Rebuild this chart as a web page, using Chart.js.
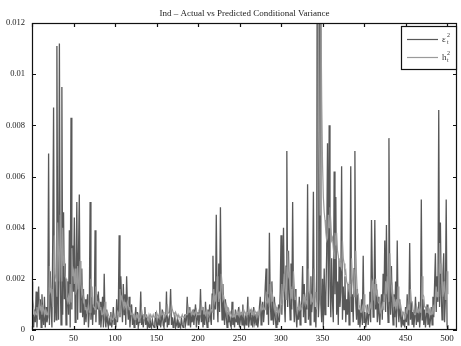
<!DOCTYPE html>
<html>
<head>
<meta charset="utf-8">
<script src="https://cdn.jsdelivr.net/npm/chart.js@4.4.0/dist/chart.umd.min.js"></script>
<style>
  html, body { margin: 0; padding: 0; background: #fff; }
  #wrap { width: 461px; height: 346px; }
</style>
</head>
<body>
<div id="wrap"><canvas id="varianceChart" width="461" height="346"></canvas></div>
<script>
// squared residuals (actual), one value per day
const epsSq = [
  0.0002,0.0006,0.0001,0.0008,0.0003,0.0015,0.0001,0.0011,0.0017,0.0004,
  0.0012,0.0001,0.0014,0.0006,0.0002,0.0013,0.0001,0.0009,0.0003,0.0005,
  0.0069,0.0002,0.0023,0.0009,0.0001,0.0036,0.0087,0.0003,0.0019,0.0004,
  0.0111,0.0019,0.0004,0.0112,0.0021,0.0002,0.0095,0.0006,0.0046,0.0012,
  0.0026,0.0002,0.0008,0.0019,0.0006,0.0039,0.0001,0.0083,0.0008,0.0033,
  0.0015,0.0044,0.0003,0.0021,0.0050,0.0004,0.0029,0.0053,0.0007,0.0011,
  0.0024,0.0005,0.0016,0.0002,0.0012,0.0003,0.0009,0.0014,0.0001,0.0007,
  0.0050,0.0004,0.0017,0.0002,0.0010,0.0006,0.0039,0.0003,0.0014,0.0008,
  0.0015,0.0002,0.0011,0.0001,0.0006,0.0013,0.0001,0.0022,0.0004,0.0001,
  0.0008,0.0003,0.0001,0.0005,0.0002,0.0007,0.0001,0.0004,0.0009,0.0002,
  0.0005,0.0001,0.0012,0.0003,0.0008,0.0037,0.0005,0.0021,0.0011,0.0003,
  0.0018,0.0006,0.0014,0.0002,0.0021,0.0009,0.0004,0.0013,0.0001,0.0007,
  0.0010,0.0002,0.0006,0.0001,0.0004,0.0009,0.0002,0.0007,0.0001,0.0003,
  0.0005,0.0015,0.0002,0.0006,0.0001,0.0004,0.0009,0.0002,0.0006,0.0001,
  0.0003,0.0001,0.0005,0.0002,0.0001,0.0004,0.0002,0.0001,0.0003,0.0007,
  0.0002,0.0001,0.0005,0.0002,0.0011,0.0001,0.0004,0.0008,0.0002,0.0001,
  0.0006,0.0003,0.0015,0.0001,0.0004,0.0002,0.0007,0.0016,0.0002,0.0005,
  0.0001,0.0003,0.0006,0.0001,0.0002,0.0004,0.0001,0.0003,0.0002,0.0001,
  0.0005,0.0002,0.0001,0.0003,0.0006,0.0002,0.0004,0.0013,0.0002,0.0005,
  0.0009,0.0001,0.0007,0.0003,0.0008,0.0002,0.0006,0.0010,0.0001,0.0004,
  0.0007,0.0002,0.0005,0.0016,0.0003,0.0009,0.0001,0.0006,0.0002,0.0011,
  0.0004,0.0001,0.0008,0.0003,0.0010,0.0005,0.0002,0.0014,0.0029,0.0004,
  0.0019,0.0008,0.0045,0.0012,0.0003,0.0026,0.0007,0.0048,0.0015,0.0004,
  0.0018,0.0009,0.0002,0.0012,0.0005,0.0001,0.0007,0.0003,0.0006,0.0002,
  0.0001,0.0011,0.0002,0.0005,0.0001,0.0008,0.0003,0.0006,0.0002,0.0009,
  0.0001,0.0004,0.0007,0.0002,0.0010,0.0003,0.0001,0.0006,0.0002,0.0005,
  0.0013,0.0001,0.0004,0.0008,0.0002,0.0006,0.0001,0.0009,0.0003,0.0005,
  0.0002,0.0007,0.0001,0.0004,0.0009,0.0013,0.0002,0.0006,0.0011,0.0003,
  0.0008,0.0017,0.0024,0.0006,0.0014,0.0002,0.0038,0.0011,0.0004,0.0019,
  0.0008,0.0002,0.0013,0.0005,0.0001,0.0007,0.0002,0.0010,0.0003,0.0015,
  0.0037,0.0006,0.0022,0.0040,0.0011,0.0003,0.0025,0.0070,0.0009,0.0031,
  0.0014,0.0004,0.0026,0.0008,0.0050,0.0012,0.0003,0.0016,0.0006,0.0001,
  0.0009,0.0004,0.0013,0.0002,0.0007,0.0011,0.0025,0.0005,0.0018,0.0003,
  0.0012,0.0008,0.0057,0.0004,0.0015,0.0002,0.0021,0.0007,0.0012,0.0054,
  0.0003,0.0009,0.0001,0.0016,0.0260,0.0005,0.0012,0.0200,0.0010,0.0003,
  0.0020,0.0001,0.0024,0.0006,0.0013,0.0030,0.0073,0.0009,0.0080,0.0017,
  0.0005,0.0028,0.0011,0.0003,0.0062,0.0014,0.0052,0.0006,0.0019,0.0002,
  0.0027,0.0009,0.0015,0.0064,0.0004,0.0017,0.0008,0.0021,0.0003,0.0012,
  0.0006,0.0018,0.0002,0.0010,0.0064,0.0007,0.0014,0.0003,0.0024,0.0070,
  0.0011,0.0004,0.0016,0.0002,0.0008,0.0001,0.0005,0.0012,0.0002,0.0029,
  0.0003,0.0007,0.0001,0.0004,0.0010,0.0002,0.0006,0.0015,0.0003,0.0043,
  0.0021,0.0005,0.0011,0.0043,0.0008,0.0018,0.0003,0.0013,0.0006,0.0002,
  0.0009,0.0014,0.0004,0.0022,0.0011,0.0035,0.0007,0.0041,0.0013,0.0003,
  0.0075,0.0018,0.0006,0.0025,0.0009,0.0002,0.0014,0.0005,0.0019,0.0001,
  0.0035,0.0008,0.0003,0.0012,0.0005,0.0001,0.0007,0.0002,0.0004,0.0001,
  0.0009,0.0003,0.0014,0.0002,0.0006,0.0034,0.0004,0.0011,0.0002,0.0007,
  0.0001,0.0005,0.0013,0.0002,0.0008,0.0003,0.0011,0.0001,0.0006,0.0051,
  0.0004,0.0012,0.0002,0.0008,0.0001,0.0005,0.0010,0.0002,0.0007,0.0001,
  0.0004,0.0009,0.0002,0.0013,0.0005,0.0018,0.0030,0.0007,0.0021,0.0011,
  0.0086,0.0009,0.0042,0.0014,0.0004,0.0022,0.0030,0.0003,0.0012,0.0051,
  0.0002,0.0000
];

// predicted conditional variance
const hSq = [
  0.0019,0.0012,0.0009,0.0006,0.0007,0.0006,0.0009,0.0006,0.0008,0.0011,
  0.0008,0.0009,0.0006,0.0009,0.0008,0.0006,0.0008,0.0006,0.0007,0.0006,
  0.0006,0.0025,0.0015,0.0016,0.0013,0.0009,0.0017,0.0037,0.0022,0.0019,
  0.0013,0.0042,0.0030,0.0019,0.0045,0.0032,0.0019,0.0040,0.0025,0.0029,
  0.0021,0.0020,0.0013,0.0011,0.0013,0.0010,0.0018,0.0011,0.0032,0.0021,
  0.0023,0.0018,0.0024,0.0015,0.0016,0.0025,0.0016,0.0019,0.0027,0.0018,
  0.0014,0.0016,0.0011,0.0012,0.0008,0.0009,0.0007,0.0008,0.0010,0.0007,
  0.0007,0.0020,0.0013,0.0013,0.0009,0.0009,0.0008,0.0017,0.0011,0.0011,
  0.0009,0.0011,0.0008,0.0009,0.0006,0.0006,0.0008,0.0006,0.0011,0.0008,
  0.0006,0.0007,0.0006,0.0005,0.0005,0.0004,0.0005,0.0004,0.0004,0.0006,
  0.0005,0.0005,0.0004,0.0007,0.0006,0.0007,0.0016,0.0011,0.0013,0.0012,
  0.0009,0.0011,0.0009,0.0010,0.0007,0.0011,0.0010,0.0008,0.0009,0.0006,
  0.0006,0.0007,0.0005,0.0006,0.0004,0.0004,0.0006,0.0005,0.0006,0.0004,
  0.0004,0.0005,0.0008,0.0006,0.0006,0.0004,0.0004,0.0006,0.0005,0.0005,
  0.0004,0.0006,0.0005,0.0006,0.0005,0.0005,0.0006,0.0005,0.0005,0.0005,
  0.0007,0.0006,0.0005,0.0006,0.0005,0.0008,0.0006,0.0006,0.0007,0.0006,
  0.0005,0.0006,0.0006,0.0010,0.0007,0.0007,0.0006,0.0007,0.0010,0.0008,
  0.0007,0.0006,0.0006,0.0007,0.0006,0.0005,0.0006,0.0005,0.0005,0.0005,
  0.0005,0.0006,0.0005,0.0005,0.0005,0.0006,0.0006,0.0006,0.0009,0.0007,
  0.0007,0.0008,0.0006,0.0007,0.0006,0.0007,0.0006,0.0007,0.0008,0.0006,
  0.0006,0.0007,0.0006,0.0006,0.0010,0.0008,0.0009,0.0007,0.0007,0.0006,
  0.0008,0.0007,0.0006,0.0007,0.0006,0.0008,0.0008,0.0007,0.0010,0.0016,
  0.0011,0.0013,0.0011,0.0021,0.0016,0.0011,0.0015,0.0012,0.0022,0.0018,
  0.0012,0.0013,0.0011,0.0008,0.0010,0.0009,0.0007,0.0008,0.0006,0.0007,
  0.0006,0.0005,0.0008,0.0006,0.0006,0.0005,0.0007,0.0006,0.0007,0.0006,
  0.0008,0.0006,0.0006,0.0007,0.0006,0.0008,0.0007,0.0006,0.0007,0.0006,
  0.0006,0.0009,0.0007,0.0007,0.0008,0.0006,0.0007,0.0006,0.0008,0.0007,
  0.0007,0.0006,0.0007,0.0006,0.0006,0.0008,0.0010,0.0008,0.0008,0.0009,
  0.0008,0.0008,0.0011,0.0015,0.0011,0.0012,0.0009,0.0018,0.0015,0.0011,
  0.0013,0.0011,0.0008,0.0010,0.0009,0.0007,0.0008,0.0006,0.0008,0.0007,
  0.0010,0.0018,0.0013,0.0015,0.0022,0.0017,0.0012,0.0016,0.0031,0.0021,
  0.0022,0.0017,0.0012,0.0016,0.0012,0.0023,0.0017,0.0012,0.0013,0.0010,
  0.0007,0.0009,0.0008,0.0010,0.0008,0.0008,0.0009,0.0014,0.0011,0.0013,
  0.0010,0.0011,0.0010,0.0024,0.0015,0.0014,0.0010,0.0013,0.0011,0.0011,
  0.0024,0.0015,0.0012,0.0008,0.0011,0.0132,0.0078,0.0045,0.0130,0.0090,
  0.0065,0.0052,0.0046,0.0043,0.0038,0.0035,0.0036,0.0045,0.0040,0.0048,
  0.0042,0.0035,0.0036,0.0032,0.0028,0.0038,0.0033,0.0038,0.0031,0.0029,
  0.0025,0.0028,0.0025,0.0024,0.0035,0.0028,0.0026,0.0022,0.0023,0.0019,
  0.0018,0.0016,0.0018,0.0015,0.0013,0.0028,0.0020,0.0017,0.0013,0.0016,
  0.0031,0.0021,0.0014,0.0014,0.0010,0.0010,0.0007,0.0007,0.0009,0.0007,
  0.0014,0.0010,0.0009,0.0007,0.0007,0.0009,0.0007,0.0007,0.0010,0.0008,
  0.0019,0.0018,0.0012,0.0011,0.0020,0.0014,0.0015,0.0011,0.0011,0.0010,
  0.0007,0.0008,0.0010,0.0008,0.0013,0.0012,0.0019,0.0014,0.0021,0.0016,
  0.0011,0.0030,0.0022,0.0015,0.0017,0.0013,0.0009,0.0011,0.0009,0.0012,
  0.0008,0.0017,0.0013,0.0009,0.0010,0.0008,0.0006,0.0007,0.0006,0.0006,
  0.0005,0.0008,0.0007,0.0010,0.0008,0.0008,0.0016,0.0011,0.0011,0.0008,
  0.0008,0.0006,0.0006,0.0009,0.0007,0.0008,0.0007,0.0009,0.0007,0.0007,
  0.0021,0.0014,0.0013,0.0009,0.0009,0.0007,0.0007,0.0009,0.0007,0.0008,
  0.0006,0.0006,0.0008,0.0006,0.0009,0.0008,0.0011,0.0017,0.0013,0.0015,
  0.0013,0.0034,0.0022,0.0026,0.0019,0.0013,0.0015,0.0019,0.0012,0.0012,
  0.0023,0.0014
];

const xTicks = [0, 50, 100, 150, 200, 250, 300, 350, 400, 450, 500];
const yTicks = [0, 0.002, 0.004, 0.006, 0.008, 0.01, 0.012];
const xMax = 512;
const yMax = 0.012;
const chartTitle = "Ind \u2013 Actual vs Predicted Conditional Variance";

const serif = "'Liberation Serif', 'Times New Roman', serif";
const darkGray = "#585858";
const lightGray = "#9a9a9a";

function toPoints(values) {
  return values.map((v, i) => ({ x: i, y: v }));
}

// inward ticks on all four sides, box frame, title and legend (matlab look)
const matlabFrame = {
  id: "matlabFrame",
  afterDatasetsDraw(chart) {
    const { ctx, chartArea: a, scales } = chart;
    ctx.save();
    ctx.strokeStyle = "#111";
    ctx.lineWidth = 1.2;
    ctx.strokeRect(a.left + 0.5, a.top + 0.5, a.right - a.left - 1, a.bottom - a.top - 1);

    ctx.beginPath();
    xTicks.forEach((v) => {
      const px = Math.round(scales.x.getPixelForValue(v)) + 0.5;
      ctx.moveTo(px, a.bottom);
      ctx.lineTo(px, a.bottom - 4);
      ctx.moveTo(px, a.top);
      ctx.lineTo(px, a.top + 4);
    });
    yTicks.forEach((v) => {
      const py = Math.round(scales.y.getPixelForValue(v)) + 0.5;
      ctx.moveTo(a.left, py);
      ctx.lineTo(a.left + 4, py);
      ctx.moveTo(a.right, py);
      ctx.lineTo(a.right - 4, py);
    });
    ctx.stroke();

    // title
    ctx.fillStyle = "#222";
    ctx.font = "9px " + serif;
    ctx.textAlign = "center";
    ctx.textBaseline = "alphabetic";
    ctx.fillText(chartTitle, (a.left + a.right) / 2, 16);

    // legend box
    const bx = a.right - 56;
    const by = a.top + 3;
    ctx.fillStyle = "#fff";
    ctx.fillRect(bx, by, 55, 43);
    ctx.strokeStyle = "#111";
    ctx.lineWidth = 1.2;
    ctx.strokeRect(bx + 0.5, by + 0.5, 55, 43);

    const rows = [
      { name: "\u03b5", color: darkGray, y: by + 13 },
      { name: "h", color: lightGray, y: by + 31 },
    ];
    rows.forEach((r) => {
      ctx.strokeStyle = r.color;
      ctx.lineWidth = 1.2;
      ctx.beginPath();
      ctx.moveTo(bx + 6, r.y + 0.5);
      ctx.lineTo(bx + 37, r.y + 0.5);
      ctx.stroke();

      ctx.fillStyle = "#333";
      ctx.textAlign = "left";
      ctx.font = "9px " + serif;
      ctx.fillText(r.name, bx + 41, r.y + 3);
      ctx.font = "6px " + serif;
      ctx.fillText("2", bx + 46, r.y - 2);
      ctx.fillText("t", bx + 46, r.y + 5);
    });
    ctx.restore();
  },
};

new Chart(document.getElementById("varianceChart"), {
  type: "line",
  data: {
    datasets: [
      {
        label: "e2",
        data: toPoints(epsSq),
        borderColor: darkGray,
        borderWidth: 1.3,
        pointRadius: 0,
        tension: 0,
        order: 2,
      },
      {
        label: "h2",
        data: toPoints(hSq),
        borderColor: lightGray,
        borderWidth: 1.2,
        pointRadius: 0,
        tension: 0,
        order: 1,
      },
    ],
  },
  options: {
    responsive: false,
    animation: false,
    devicePixelRatio: 1,
    layout: { padding: { top: 23, right: 4, left: 0, bottom: 0 } },
    plugins: {
      legend: { display: false },
      title: { display: false },
      tooltip: { enabled: false },
    },
    scales: {
      x: {
        type: "linear",
        min: 0,
        max: xMax,
        afterBuildTicks: (s) => { s.ticks = xTicks.map((v) => ({ value: v })); },
        afterFit: (s) => { s.height = 16; },
        grid: { display: false, drawTicks: false, tickLength: 0 },
        border: { display: false },
        ticks: {
          color: "#222",
          font: { family: serif, size: 9 },
          padding: 3,
          maxRotation: 0,
          autoSkip: false,
        },
      },
      y: {
        type: "linear",
        min: 0,
        max: yMax,
        afterBuildTicks: (s) => { s.ticks = yTicks.map((v) => ({ value: v })); },
        afterFit: (s) => { s.width = 32; },
        grid: { display: false, drawTicks: false, tickLength: 0 },
        border: { display: false },
        ticks: {
          color: "#222",
          font: { family: serif, size: 8.5 },
          padding: 7,
          callback: (v) => String(+v.toFixed(4)),
        },
      },
    },
  },
  plugins: [matlabFrame],
});
</script>
</body>
</html>
